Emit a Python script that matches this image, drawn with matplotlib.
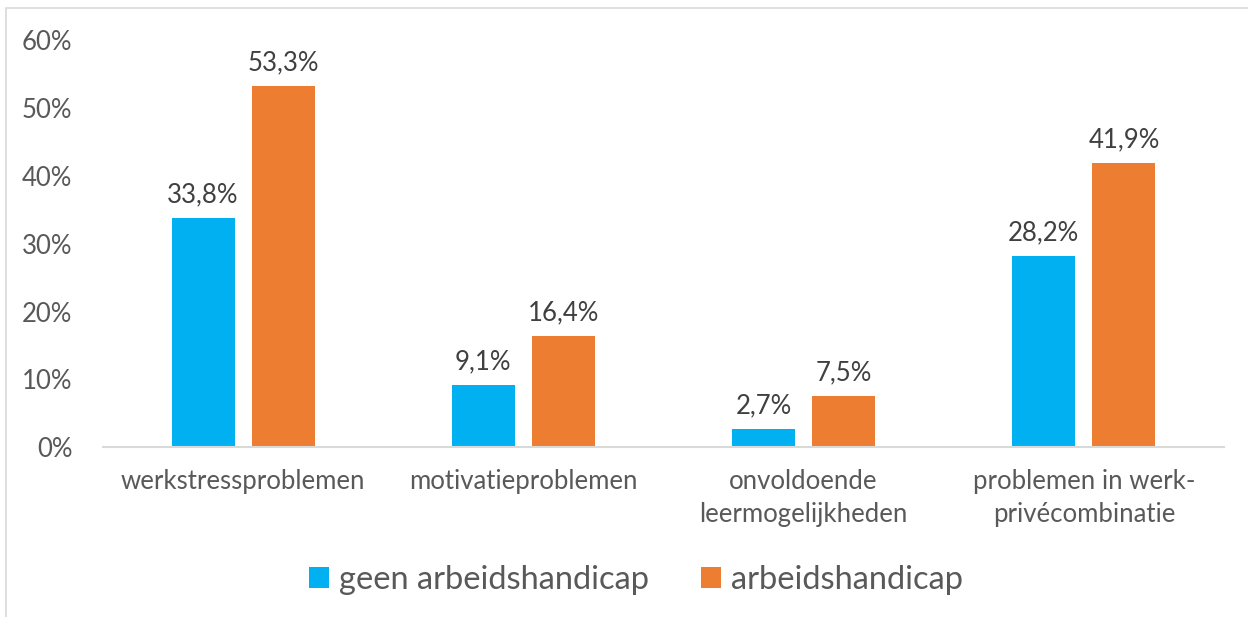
import numpy as np
import matplotlib
matplotlib.use("Agg")
import matplotlib.pyplot as plt
from matplotlib.patches import Rectangle

plt.rcParams['font.family'] = ['Lato', 'DejaVu Sans']

categories = ["werkstressproblemen", "motivatieproblemen",
              "onvoldoende\nleermogelijkheden", "problemen in werk-\nprivécombinatie"]
series_names = ["geen arbeidshandicap", "arbeidshandicap"]
geen = [33.8, 9.1, 2.7, 28.2]
wel = [53.3, 16.4, 7.5, 41.9]
yticks = [0, 10, 20, 30, 40, 50, 60]

blue = "#00b0f0"
orange = "#ed7d31"
grey = "#595959"

W, H = 1248, 617
fig = plt.figure(figsize=(W / 100, H / 100), dpi=100)
ax = fig.add_axes([103 / W, 1 - 447 / H, (1224 - 103) / W, (447 - 40.5) / H])

# light border of the chart area (cut off on right / bottom)
fig.patches.append(Rectangle((6 / W, -0.1), 1.2, 1 - 8 / H + 0.1, transform=fig.transFigure,
                             fill=False, edgecolor="#d9d9d9", linewidth=1.2))

x = np.arange(len(categories))
bw = 0.225
off = 0.143
b1 = ax.bar(x - off, geen, bw, color=blue, label=series_names[0])
b2 = ax.bar(x + off, wel, bw, color=orange, label=series_names[1])

for bars, vals in ((b1, geen), (b2, wel)):
    for b, v in zip(bars, vals):
        ax.text(b.get_x() + b.get_width() / 2, v + 1.6, f"{v:.1f}%".replace(".", ","),
                ha="center", va="bottom", fontsize=18.5, color="#404040")

ax.set_xlim(-0.5, len(categories) - 0.5)
ax.set_ylim(0, 60)
ax.set_yticks(yticks)
ax.set_yticklabels([f"{t}%" for t in yticks], fontsize=18.5, color=grey)
ax.set_xticks(x)
ax.set_xticklabels(categories, fontsize=18.5, color=grey, linespacing=1.4, va="top")
ax.tick_params(axis="both", length=0)
ax.tick_params(axis="y", pad=22)
ax.tick_params(axis="x", pad=16)
for s in ("top", "right", "left"):
    ax.spines[s].set_visible(False)
ax.spines["bottom"].set_color("#d9d9d9")
ax.spines["bottom"].set_linewidth(1.5)

fig.legend(loc="center", bbox_to_anchor=(636 / W, 1 - 580 / H), ncol=2, frameon=False,
           fontsize=23.5, handlelength=0.62, handleheight=0.62, handletextpad=0.3,
           columnspacing=1.6, labelcolor=grey)

fig.savefig("out.png", dpi=100)
